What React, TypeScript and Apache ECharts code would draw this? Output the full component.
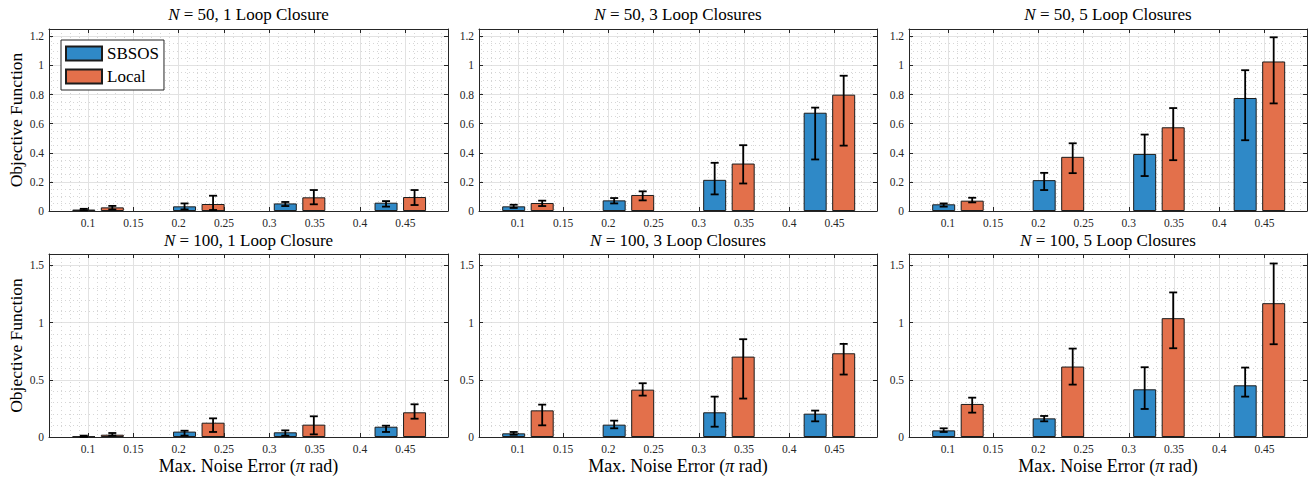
import React, { useEffect, useRef } from "react";
import * as echarts from "echarts";

// ---------- data ----------
const noiseLevels = [0.1111, 0.2222, 0.3333, 0.4444]; // pi/9 .. 4pi/9
const xTickValues = [0.1, 0.15, 0.2, 0.25, 0.3, 0.35, 0.4, 0.45];
const yTicksN50 = [0, 0.2, 0.4, 0.6, 0.8, 1, 1.2];
const yTicksN100 = [0, 0.5, 1, 1.5];
const seriesNames = ["SBSOS", "Local"];

const panelNs = ["50", "50", "50", "100", "100", "100"];
const panelLoops = ["1 Loop Closure", "3 Loop Closures", "5 Loop Closures", "1 Loop Closure", "3 Loop Closures", "5 Loop Closures"];

// N = 50, 1 loop closure
const sbsos50L1 = [0.01, 0.032, 0.052, 0.057];
const sbsos50L1Lo = [0.005, 0.011, 0.034, 0.03];
const sbsos50L1Hi = [0.015, 0.052, 0.062, 0.068];
const local50L1 = [0.025, 0.048, 0.094, 0.096];
const local50L1Lo = [0.01, 0.007, 0.046, 0.041];
const local50L1Hi = [0.035, 0.105, 0.144, 0.144];

// N = 50, 3 loop closures
const sbsos50L3 = [0.032, 0.073, 0.214, 0.675];
const sbsos50L3Lo = [0.021, 0.052, 0.114, 0.354];
const sbsos50L3Hi = [0.043, 0.089, 0.331, 0.71];
const local50L3 = [0.055, 0.11, 0.326, 0.799];
const local50L3Lo = [0.034, 0.073, 0.189, 0.449];
const local50L3Hi = [0.071, 0.135, 0.452, 0.929];

// N = 50, 5 loop closures
const sbsos50L5 = [0.046, 0.212, 0.392, 0.776];
const sbsos50L5Lo = [0.03, 0.144, 0.24, 0.486];
const sbsos50L5Hi = [0.052, 0.262, 0.525, 0.967];
const local50L5 = [0.071, 0.372, 0.575, 1.027];
const local50L5Lo = [0.059, 0.26, 0.349, 0.739];
const local50L5Hi = [0.091, 0.465, 0.707, 1.193];

// N = 100, 1 loop closure
const sbsos100L1 = [0.005, 0.047, 0.041, 0.09];
const sbsos100L1Lo = [0.001, 0.012, 0.012, 0.044];
const sbsos100L1Hi = [0.012, 0.055, 0.058, 0.099];
const local100L1 = [0.02, 0.125, 0.108, 0.216];
const local100L1Lo = [0.012, 0.044, 0.023, 0.16];
const local100L1Hi = [0.035, 0.163, 0.181, 0.286];

// N = 100, 3 loop closures
const sbsos100L3 = [0.032, 0.108, 0.216, 0.204];
const sbsos100L3Lo = [0.02, 0.076, 0.09, 0.137];
const sbsos100L3Hi = [0.044, 0.143, 0.353, 0.231];
const local100L3 = [0.233, 0.414, 0.703, 0.732];
const local100L3Lo = [0.102, 0.362, 0.336, 0.546];
const local100L3Hi = [0.283, 0.47, 0.855, 0.814];

// N = 100, 5 loop closures
const sbsos100L5 = [0.058, 0.163, 0.417, 0.452];
const sbsos100L5Lo = [0.044, 0.137, 0.245, 0.353];
const sbsos100L5Hi = [0.076, 0.184, 0.61, 0.607];
const local100L5 = [0.289, 0.616, 1.039, 1.17];
const local100L5Lo = [0.213, 0.458, 0.776, 0.811];
const local100L5Hi = [0.344, 0.773, 1.264, 1.517];

const panels = [
  { sb: sbsos50L1, sbLo: sbsos50L1Lo, sbHi: sbsos50L1Hi, lo: local50L1, loLo: local50L1Lo, loHi: local50L1Hi },
  { sb: sbsos50L3, sbLo: sbsos50L3Lo, sbHi: sbsos50L3Hi, lo: local50L3, loLo: local50L3Lo, loHi: local50L3Hi },
  { sb: sbsos50L5, sbLo: sbsos50L5Lo, sbHi: sbsos50L5Hi, lo: local50L5, loLo: local50L5Lo, loHi: local50L5Hi },
  { sb: sbsos100L1, sbLo: sbsos100L1Lo, sbHi: sbsos100L1Hi, lo: local100L1, loLo: local100L1Lo, loHi: local100L1Hi },
  { sb: sbsos100L3, sbLo: sbsos100L3Lo, sbHi: sbsos100L3Hi, lo: local100L3, loLo: local100L3Lo, loHi: local100L3Hi },
  { sb: sbsos100L5, sbLo: sbsos100L5Lo, sbHi: sbsos100L5Hi, lo: local100L5, loLo: local100L5Lo, loHi: local100L5Hi },
];

// ---------- style / layout ----------
const FONT = "Liberation Serif";
const AXIS_COLOR = "#262626";
const BLUE = "#2f89c7";
const ORANGE = "#e3704b";
const EDGE = "#1c1c1c";
const BAR_W = 23;
const BAR_GAP = "24%";
const ERR_OFFSET = 14.26;
const CAP = 4;
const colLeft = [49, 479, 909];
const colWidth = [399, 398, 398];
const rowTop = [29, 254];
const rowHeight = [182, 183];
const X_MIN = 0.057;
const X_MAX = 0.497;

function buildOption() {
  const grid: any[] = [];
  const xAxis: any[] = [];
  const yAxis: any[] = [];
  const series: any[] = [];
  const title: any[] = [];

  panels.forEach((p, i) => {
    const row = Math.floor(i / 3);
    const col = i % 3;
    grid.push({ left: colLeft[col], top: rowTop[row], width: colWidth[col], height: rowHeight[row], show: false });

    const yMax = row === 0 ? 1.25 : 1.6;
    const yInterval = row === 0 ? 0.2 : 0.5;
    const yTicks = row === 0 ? yTicksN50 : yTicksN100;
    const yMinorSplit = row === 0 ? 4 : 5;

    const tickStyle = { color: AXIS_COLOR, width: 1 };
    xAxis.push({
      type: "value",
      gridIndex: i,
      position: "bottom",
      min: X_MIN,
      max: X_MAX,
      splitNumber: 9,
      axisLine: { show: true, onZero: false, lineStyle: tickStyle },
      axisTick: { show: true, inside: true, length: 4, customValues: xTickValues, lineStyle: tickStyle },
      axisLabel: {
        show: true,
        customValues: xTickValues,
        fontFamily: FONT,
        fontSize: 11.5,
        color: AXIS_COLOR,
        margin: 6,
        formatter: (v: number) => String(+v.toFixed(2)),
      },
      splitLine: { show: true, lineStyle: { color: "#e2e2e2", width: 1 } },
      minorTick: { show: false, splitNumber: 5 },
      minorSplitLine: { show: true, lineStyle: { color: "#d6d6d6", width: 1, type: [1, 3] } },
      name: row === 1 ? "Max. Noise Error ({it|π} rad)" : "",
      nameLocation: "middle",
      nameGap: 20,
      nameTextStyle: {
        fontFamily: FONT,
        fontSize: 18,
        color: "#000",
        rich: { it: { fontFamily: FONT, fontSize: 18, fontStyle: "italic", color: "#000" } },
      },
    });
    xAxis.push({
      type: "value",
      gridIndex: i,
      position: "top",
      min: X_MIN,
      max: X_MAX,
      splitNumber: 9,
      axisLine: { show: true, onZero: false, lineStyle: tickStyle },
      axisTick: { show: true, inside: true, length: 4, customValues: xTickValues, lineStyle: tickStyle },
      axisLabel: { show: false },
      splitLine: { show: false },
    });
    yAxis.push({
      type: "value",
      gridIndex: i,
      position: "left",
      min: 0,
      max: yMax,
      interval: yInterval,
      axisLine: { show: true, onZero: false, lineStyle: tickStyle },
      axisTick: { show: true, inside: true, length: 4, customValues: yTicks, lineStyle: tickStyle },
      axisLabel: {
        show: true,
        customValues: yTicks,
        fontFamily: FONT,
        fontSize: 11.5,
        color: AXIS_COLOR,
        margin: 5,
        formatter: (v: number) => String(+v.toFixed(2)),
      },
      splitLine: { show: true, lineStyle: { color: "#e2e2e2", width: 1 } },
      minorTick: { show: false, splitNumber: yMinorSplit },
      minorSplitLine: { show: true, lineStyle: { color: "#d6d6d6", width: 1, type: [1, 3] } },
      name: col === 0 ? "Objective Function" : "",
      nameLocation: "middle",
      nameGap: 24,
      nameTextStyle: { fontFamily: FONT, fontSize: 17.5, color: "#000" },
    });
    yAxis.push({
      type: "value",
      gridIndex: i,
      position: "right",
      min: 0,
      max: yMax,
      interval: yInterval,
      axisLine: { show: true, onZero: false, lineStyle: tickStyle },
      axisTick: { show: true, inside: true, length: 4, customValues: yTicks, lineStyle: tickStyle },
      axisLabel: { show: false },
      splitLine: { show: false },
    });

    const xi = i * 2;
    const yi = i * 2;
    const sbData = noiseLevels.map((x, k) => [x, p.sb[k]]);
    const loData = noiseLevels.map((x, k) => [x, p.lo[k]]);
    series.push({
      name: seriesNames[0],
      type: "bar",
      xAxisIndex: xi,
      yAxisIndex: yi,
      data: sbData,
      barWidth: BAR_W,
      barGap: BAR_GAP,
      itemStyle: { color: BLUE, borderColor: EDGE, borderWidth: 1 },
      z: 2,
    });
    series.push({
      name: seriesNames[1],
      type: "bar",
      xAxisIndex: xi,
      yAxisIndex: yi,
      data: loData,
      barWidth: BAR_W,
      barGap: BAR_GAP,
      itemStyle: { color: ORANGE, borderColor: EDGE, borderWidth: 1 },
      z: 2,
    });
    const errData: number[][] = [];
    noiseLevels.forEach((x, k) => {
      errData.push([x, p.sbLo[k], p.sbHi[k], -1]);
      errData.push([x, p.loLo[k], p.loHi[k], 1]);
    });
    series.push({
      name: "errorbars",
      type: "custom",
      xAxisIndex: xi,
      yAxisIndex: yi,
      data: errData,
      encode: { x: 0, y: [1, 2] },
      clip: false,
      z: 5,
      renderItem: (params: any, api: any) => {
        const x = api.value(0);
        const lo = api.value(1);
        const hi = api.value(2);
        const side = api.value(3);
        const pLo = api.coord([x, lo]);
        const pHi = api.coord([x, hi]);
        const cx = pLo[0] + side * ERR_OFFSET;
        const style = { stroke: "#000", lineWidth: 1.8, fill: null };
        return {
          type: "group",
          children: [
            { type: "line", shape: { x1: cx, y1: pHi[1], x2: cx, y2: pLo[1] }, style },
            { type: "line", shape: { x1: cx - CAP, y1: pHi[1], x2: cx + CAP, y2: pHi[1] }, style },
            { type: "line", shape: { x1: cx - CAP, y1: pLo[1], x2: cx + CAP, y2: pLo[1] }, style },
          ],
        };
      },
    });

    title.push({
      text: `{it|N} = ${panelNs[i]}, ${panelLoops[i]}`,
      left: colLeft[col] + colWidth[col] / 2,
      top: row === 0 ? 6 : 232,
      textAlign: "center",
      textVerticalAlign: "top",
      padding: 0,
      textStyle: {
        fontFamily: FONT,
        fontSize: 17,
        fontWeight: "normal",
        color: "#000",
        rich: { it: { fontFamily: FONT, fontSize: 17, fontStyle: "italic", color: "#000" } },
      },
    });
  });

  return {
    animation: false,
    backgroundColor: "#ffffff",
    textStyle: { fontFamily: FONT },
    title,
    grid,
    xAxis,
    yAxis,
    series,
    legend: {
      data: seriesNames,
      orient: "vertical",
      left: 61,
      top: 40,
      itemWidth: 36,
      itemHeight: 14,
      itemGap: 6,
      icon: "rect",
      padding: [5, 5, 5, 4],
      backgroundColor: "#ffffff",
      borderColor: AXIS_COLOR,
      borderWidth: 1,
      borderRadius: 0,
      textStyle: { fontFamily: FONT, fontSize: 17, color: "#000", lineHeight: 15 },
    },
  };
}

export default function App() {
  const ref = useRef<HTMLDivElement>(null);
  useEffect(() => {
    if (!ref.current) return;
    const chart = echarts.init(ref.current, undefined, { renderer: "svg" });
    chart.setOption(buildOption() as any);
    return () => chart.dispose();
  }, []);
  return (
    <div
      ref={ref}
      style={{ position: "fixed", left: 0, top: 0, width: 1310, height: 480, background: "#fff" }}
    />
  );
}
